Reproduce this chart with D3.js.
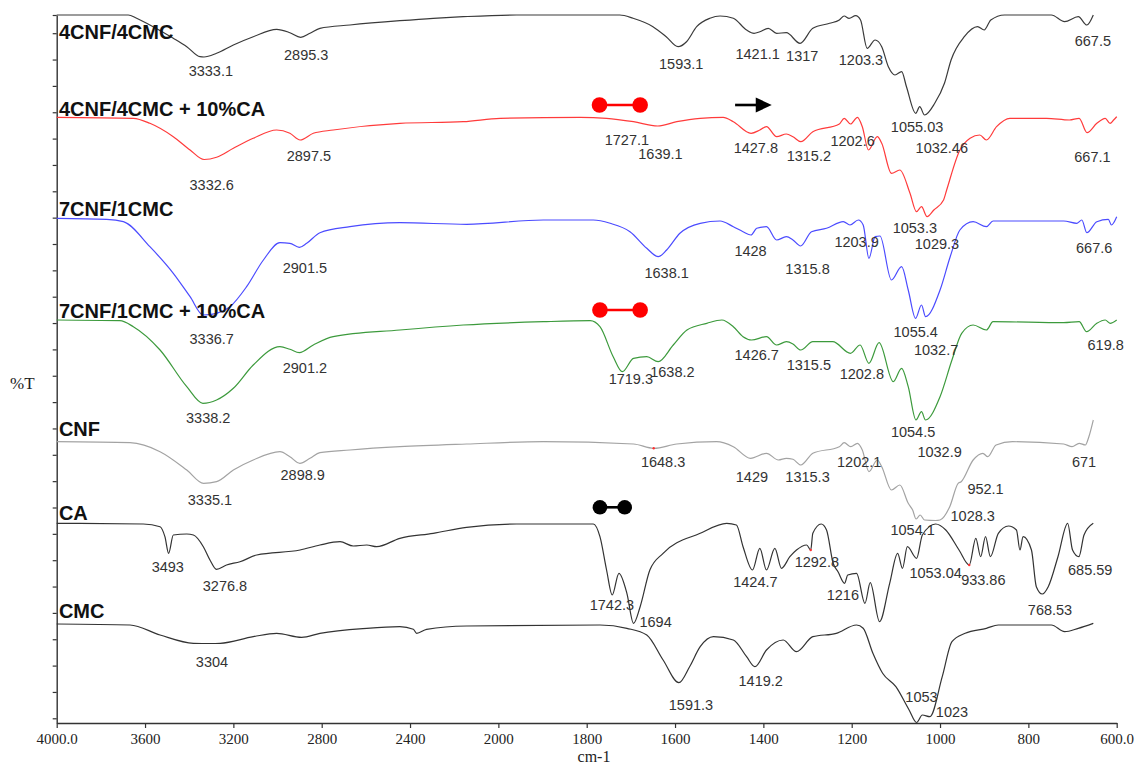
<!DOCTYPE html>
<html><head><meta charset="utf-8">
<script src="https://cdn.jsdelivr.net/npm/d3@7"></script>
<style>body{margin:0;background:#fff}svg{display:block}</style>
</head><body>
<svg id="chart" width="1145" height="766"></svg>
<script>
// FTIR spectra, [wavenumber cm-1, stacked transmittance (offset units)]
const s4CNF4CMC = [[4000,708],[3676,708],[3638,704.7],[3578,698],[3472,684.7],[3411,676.3],[3351,666.3],[3333.1,666],[3276,669.7],[3200,678],[3110,686.3],[3004,693.7],[2944,690.3],[2895.3,685.7],[2853,689.7],[2808,694.7],[2672,698],[2446,702.3],[2295,704.7],[2159,706.3],[1959,708],[1725,708],[1695,704.7],[1650,696.3],[1620,686.3],[1593.1,676.3],[1574,681.3],[1551,696.3],[1521,704.7],[1498,707],[1468,704.7],[1438,693],[1421.1,689.7],[1408,691.3],[1389,694.7],[1370,689.7],[1348,690.3],[1317,679.7],[1288,694.7],[1250,699.7],[1228,703],[1217,707],[1206,704.7],[1191,707.3],[1180,703],[1165,674.7],[1147,683],[1132,676.3],[1117,656.3],[1102,648],[1087,651.3],[1076,636.3],[1055.03,609.7],[1046,616.3],[1035,608],[1012,619.7],[990,639.7],[975,663],[945,686.3],[915,696.3],[900,693],[885,703],[854,708],[748,708],[718,701.3],[687,706.3],[667.5,698],[653,708]];

const s4CNF4CMC_CA = [[4000,605.7],[3653,604.7],[3578,599.7],[3472,586.3],[3396,573],[3332.6,563.5],[3276,565.7],[3200,574.7],[3110,584.7],[3004,593],[2944,589.7],[2897.5,583],[2838,589.7],[2748,593],[2446,599.7],[2159,601.3],[1996,604.7],[1815,605.7],[1755,604.7],[1694,601.3],[1639.1,597],[1596,601.3],[1543,604.7],[1491,605.7],[1468,601.3],[1427.8,589.7],[1408,593],[1393,596.3],[1370,586.3],[1348,589],[1333,586.3],[1315.2,581.3],[1288,591.3],[1228,599],[1217,604.7],[1202.6,599],[1187,605.7],[1176,596.3],[1162,573],[1142,586.3],[1132,579.7],[1110,549.7],[1091,553],[1068,529.7],[1053.3,511.3],[1042,516.3],[1029.3,506.3],[1014,513],[992,523],[985,533],[955,573],[932,584.7],[910,588],[895,583],[872,596.3],[842,604.7],[759,604.7],[707,603],[685,604.7],[667.1,590.3],[645,599.7],[626,604.7],[615,599.7],[607,603],[600,606.3]];

const s7CNF1CMC = [[4000,504.7],[3774,503.7],[3698,501.3],[3578,476.3],[3472,449.7],[3396,426.3],[3336.7,408],[3276,409.7],[3215,416.3],[3140,436.3],[3064,463],[2989,480.3],[2944,479.7],[2901.5,475.7],[2868,479.7],[2808,490.3],[2672,496.3],[2446,500.3],[2144,498.7],[1898,503],[1785,503],[1747,499.7],[1702,491.3],[1664,474.7],[1638.1,466.3],[1619,473],[1589,489.7],[1543,499.7],[1498,502],[1468,496.3],[1446,491.3],[1428,488],[1415,494.7],[1393,496.3],[1370,483],[1348,486.3],[1333,483],[1315.8,477],[1291,491.3],[1257,494.7],[1219,501.3],[1203.9,498],[1185,503],[1174,498],[1161,464.7],[1147,486.3],[1136,487],[1110,443],[1087,456.3],[1072,433],[1055.4,404.7],[1042,418],[1032.7,406.3],[1000,433],[977,466.3],[955,493],[925,501.3],[895,496.3],[880,502],[720,502],[690,499.7],[679,503],[667.6,490.3],[645,501.3],[619,503.7],[612,498],[600,506.3]];

const s7CNF1CMC_CA = [[4000,403],[3714,402.3],[3653,396.3],[3532,373],[3411,336.3],[3338.2,319.7],[3276,323],[3200,334.7],[3110,358],[2989,376.3],[2944,373.7],[2901.2,370.3],[2838,378],[2748,386.3],[2446,393],[2159,398],[1898,401.3],[1792,402.3],[1770,396.3],[1740,366.3],[1719.3,351.3],[1694,364.7],[1664,366.3],[1638.2,361.3],[1604,378],[1573,393],[1528,399.7],[1494,403],[1468,396.3],[1446,386.3],[1426.7,383],[1393,386.3],[1370,378],[1348,381.3],[1333,379],[1315.5,373],[1288,381.3],[1243,381.3],[1202.8,369.7],[1181,378],[1161,359.7],[1138,380.3],[1106,341.3],[1087,354.7],[1072,336.3],[1054.5,303],[1042,311.3],[1032.9,303],[1000,326.3],[973,363],[951,389.7],[925,398],[895,393],[880,401.3],[720,400.3],[685,401.3],[668,391.3],[645,399.7],[626,403],[615,399.7],[600,403]];

const sCNF = [[4000,281.3],[3668,280.3],[3532,271.3],[3411,253],[3335.1,239.7],[3276,241.3],[3200,253],[3110,263],[2989,271.3],[2944,266.3],[2898.9,259.7],[2853,264.7],[2808,270.3],[2672,273],[2446,276.3],[2144,279],[1898,281.3],[1694,279],[1648.3,274.7],[1596,279],[1506,281.3],[1468,276.3],[1429,264.7],[1393,269.7],[1366,263],[1348,264.7],[1333,263.7],[1315.3,258],[1288,269.7],[1228,276.3],[1217,280.3],[1202.1,276.3],[1187,279.7],[1176,273],[1161,251.3],[1142,263],[1132,256.3],[1110,233],[1091,238],[1072,219.7],[1062,213],[1054.1,204],[1045,208],[1035,203],[1010,202.5],[1000,203],[978,216.3],[959,239.7],[952.1,241.3],[925,263],[903,269.7],[892,266.3],[873,278],[836,281.3],[720,279],[701,276.3],[685,279.7],[671,278],[663,286.3],[653,303]];

const sCA = [[4000,199.7],[3608,199],[3532,196.3],[3510,186.3],[3493,169.7],[3472,188],[3411,189],[3381,188],[3336,176.3],[3306,163],[3276.8,153.7],[3231,158],[3170,161.3],[3094,168],[2898,173],[2808,178],[2717,181.3],[2657,177],[2596,178],[2551,176.3],[2446,184.7],[2295,189.7],[2144,195.7],[1959,199],[1785,199],[1770,186.3],[1755,153],[1742.3,128],[1727,149.7],[1709,129.7],[1694,99.7],[1679,116.3],[1657,153],[1627,169.7],[1543,189.7],[1483,199.7],[1461,198],[1446,176.3],[1424.7,153],[1408,174.7],[1393,153],[1374,174.7],[1359,154.7],[1340,166.3],[1325,173],[1302,178],[1292.8,173],[1288,189.7],[1269,199],[1257,193],[1242,159.7],[1231,151.3],[1216,139.7],[1209,148],[1189,149.7],[1170,119.7],[1158,140.3],[1137,101.3],[1114,139.7],[1096,169.7],[1085,154.7],[1074,176.3],[1053.04,164.7],[1040,188],[1010,199],[987,193],[957,173],[933.86,158],[919,184.7],[908,166.3],[897,186.3],[886,166.3],[868,189.7],[845,197],[827,193],[819,173],[812,186.3],[793,173],[782,136.3],[768.53,129],[755,136.3],[733,166.3],[711,199.7],[700,173],[685.59,166.3],[674,188],[653,199.7]];

const sCMC = [[4000,99],[3668,98],[3532,88],[3381,79.7],[3304,79.5],[3260,79.7],[3110,86.3],[3004,89.7],[2891,85.7],[2808,89.7],[2596,94.7],[2446,96.3],[2385,93.7],[2370,89.7],[2325,93.7],[2144,97],[1770,98],[1709,94.7],[1664,88],[1627,63],[1591.3,40.3],[1567,56.3],[1543,76.3],[1513,86.3],[1468,83],[1438,66.3],[1419.2,56.3],[1393,73],[1355,83],[1325,71.3],[1288,86.3],[1235,89.7],[1189,98],[1174,94.7],[1152,69.7],[1130,49.7],[1100,36.3],[1070,13],[1053,0.5],[1040,8],[1023,6.3],[995,46.3],[973,81.3],[943,89.7],[895,94.7],[868,98],[748,98],[718,91.3],[687,94.7],[653,99.7]];

const spectra = [s4CNF4CMC, s4CNF4CMC_CA, s7CNF1CMC, s7CNF1CMC_CA, sCNF, sCA, sCMC];
const sampleNames = ["4CNF/4CMC", "4CNF/4CMC + 10%CA", "7CNF/1CMC", "7CNF/1CMC + 10%CA", "CNF", "CA", "CMC"];
// name placement [wavenumber, offset units]
const nameAnchors = [[3990,684],[3990,607],[3990,507],[3990,405],[3990,287],[3990,203],[3990,105]];
const lineColors = ["#3a3a3a", "#ff3b3b", "#4b4bff", "#3c9a3c", "#a3a3a3", "#333333", "#333333"];

const xTicks = [4000, 3600, 3200, 2800, 2400, 2000, 1800, 1600, 1400, 1200, 1000, 800, 600];
const xTickLabels = ["4000.0", "3600", "3200", "2800", "2400", "2000", "1800", "1600", "1400", "1200", "1000", "800", "600.0"];

// peak assignments: [text, wavenumber, offset units]
const peakLabels = [
  ["3333.1",3302,647],["2895.3",2870,663],["1593.1",1586,654.5],["1421.1",1413,664.5],["1317",1312,662],
  ["1203.3",1179,658],["667.5",654,677],["1055.03",1052,591.3],
  ["3332.6",3298,533],["2897.5",2858,562.3],["1727.1",1709,578],["1639.1",1633,563.7],["1427.8",1417,569.7],
  ["1315.2",1297,562],["1202.6",1198,577],["1032.46",996,569.7],["667.1",655,561.3],
  ["2901.5",2876,449.7],["3336.7",3298,379],["1638.1",1619,444.7],["1428",1429,467],["1315.8",1300,449],
  ["1203.9",1189,475.7],["1053.3",1057,490.3],["1029.3",1007,473.7],["667.6",651,469.7],["1055.4",1055,386.3],
  ["1032.7",1009,368],
  ["2901.2",2876,350.3],["3338.2",3314,300],["619.8",625,373],["1315.5",1297,353],["1202.8",1177,343.7],
  ["1054.5",1061,286.3],["1719.3",1700,339],["1638.2",1606,345.7],["1426.7",1415,363],
  ["3335.1",3306,218],["2898.9",2886,243],["1648.3",1627,256.3],["1429",1426,241.3],["1315.3",1300,241.3],
  ["1202.1",1183,256.3],["1032.9",1001,265.7],["671",674,256.3],["952.1",897,229],["1028.3",926,202.3],["1054.1",1062,188],
  ["3493",3497,151.3],["3276.8",3238,132.3],["1742.3",1743,113],["1694",1644,95.7],["1424.7",1418,136.3],
  ["1292.8",1279,155.7],["1216",1220,123],["1053.04",1010,144.7],["933.86",902,138],["768.53",751,108],["685.59",660,148],
  ["3304",3297,55.7],["1591.3",1564,13],["1419.2",1406,37],["1053",1042,21.3],["1023",973,5.7]
];

// C=O stretch markers [from, to, level]
const dumbbells = [[1771,1679,618],[1770,1679,413],[1770,1714,215.7]];
const dumbbellColors = ["#ff0000", "#ff0000", "#000000"];
const arrowMark = [1464, 1381, 618];
// picked peak points
const pickedPoints = [[1648.3,274.7],[1292.8,173],[933.86,158]];

const svg = d3.select("#chart");
const plotLeft = 56.7, plotRight = 1116.7, plotTop = 15, plotBottom = 723;

// the x axis is expanded twofold below 2000 cm-1
const x = d3.scaleLinear()
  .domain([4000, 2000, 600])
  .range([plotLeft, plotLeft + (plotRight - plotLeft) * 5 / 12, plotRight]);
const y = d3.scaleLinear().domain([0, 708]).range([plotBottom, plotTop]);

// axes
const yTicks = d3.range(27).map(k => 4.7 + 26.35 * k).concat([708]);
const yAxis = svg.append("g").attr("transform", `translate(${plotLeft},0)`)
  .call(d3.axisLeft(y).tickValues(yTicks).tickFormat("").tickSize(4).tickSizeOuter(0));
const xAxis = svg.append("g").attr("transform", `translate(0,${plotBottom})`)
  .call(d3.axisBottom(x).tickValues(xTicks).tickFormat((d, i) => xTickLabels[i]).tickSize(5).tickSizeOuter(0));
[yAxis, xAxis].forEach(g => {
  g.select(".domain").attr("stroke", "#333").attr("stroke-width", 1.4);
  g.selectAll(".tick line").attr("stroke", "#333").attr("stroke-width", 1.2);
});
xAxis.selectAll(".tick text")
  .attr("y", 10.4)
  .attr("font-family", "'Liberation Serif', 'Times New Roman', serif")
  .attr("font-size", 15).attr("fill", "#222");

svg.append("text").attr("x", 594).attr("y", 762.3).attr("text-anchor", "middle")
  .attr("font-family", "'Liberation Serif', 'Times New Roman', serif").attr("font-size", 16)
  .attr("fill", "#222").text("cm-1");
svg.append("text").attr("x", 10).attr("y", 389)
  .attr("font-family", "'Liberation Serif', 'Times New Roman', serif").attr("font-size", 17)
  .attr("fill", "#222").text("%T");

// spectra
const line = d3.line().x(d => x(d[0])).y(d => y(d[1])).curve(d3.curveMonotoneX);
svg.append("g").selectAll("path").data(spectra).join("path")
  .attr("d", line).attr("fill", "none")
  .attr("stroke", (d, i) => lineColors[i]).attr("stroke-width", 1.2)
  .attr("stroke-linejoin", "round");

svg.append("g").selectAll("circle").data(pickedPoints).join("circle")
  .attr("cx", d => x(d[0])).attr("cy", d => y(d[1])).attr("r", 1.2).attr("fill", "#ff3030");

// sample names
svg.append("g").selectAll("text").data(sampleNames).join("text")
  .attr("x", (d, i) => x(nameAnchors[i][0])).attr("y", (d, i) => y(nameAnchors[i][1]))
  .attr("font-family", "'Liberation Sans', Arial, sans-serif").attr("font-weight", "bold")
  .attr("font-size", 20).attr("fill", "#111").text(d => d);

// peak labels
svg.append("g").selectAll("text").data(peakLabels).join("text")
  .attr("x", d => x(d[1])).attr("y", d => y(d[2])).attr("text-anchor", "middle")
  .attr("font-family", "'Liberation Sans', Arial, sans-serif").attr("font-size", 14.5)
  .attr("fill", "#333").text(d => d[0]);

// dumbbell markers
const db = svg.append("g").selectAll("g").data(dumbbells).join("g");
db.append("line")
  .attr("x1", d => x(d[0])).attr("x2", d => x(d[1]))
  .attr("y1", d => y(d[2])).attr("y2", d => y(d[2]))
  .attr("stroke", (d, i) => dumbbellColors[i]).attr("stroke-width", 2.6);
db.each(function(d, i) {
  d3.select(this).selectAll("circle").data([d[0], d[1]]).join("circle")
    .attr("cx", w => x(w)).attr("cy", y(d[2]))
    .attr("r", i === 2 ? 7.3 : 7.8).attr("fill", dumbbellColors[i]);
});

// arrow
const ax1 = x(arrowMark[0]), ax2 = x(arrowMark[1]), ay = y(arrowMark[2]);
svg.append("line").attr("x1", ax1).attr("x2", ax2 - 14).attr("y1", ay).attr("y2", ay)
  .attr("stroke", "#000").attr("stroke-width", 2.6);
svg.append("path")
  .attr("d", `M${ax2},${ay} L${ax2 - 16},${ay - 7.5} L${ax2 - 16},${ay + 7.5} Z`)
  .attr("fill", "#000");
</script>
</body></html>
